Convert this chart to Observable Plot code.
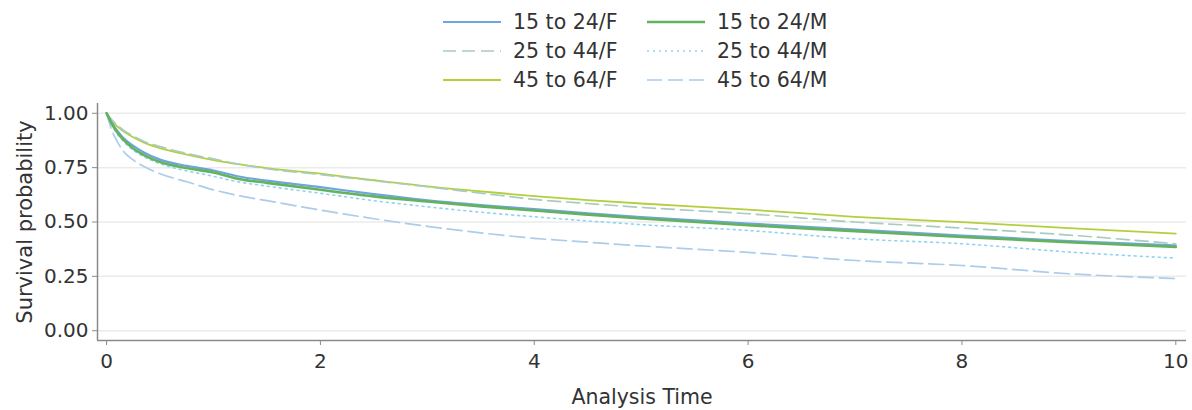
<!DOCTYPE html>
<html>
<head>
<meta charset="utf-8">
<script src="https://cdn.jsdelivr.net/npm/d3@7"></script>
<script src="https://cdn.jsdelivr.net/npm/@observablehq/plot@0.6"></script>
<style>
  html, body { margin: 0; padding: 0; background: #fff; }
  body { width: 1192px; height: 410px; overflow: hidden; font-family: "DejaVu Sans", sans-serif; color: #333; }
  #legend { position: relative; height: 95px; }
  .key { position: absolute; display: flex; align-items: center; font-size: 20.5px; line-height: 1; }
  .key svg { margin-right: 12px; }
  #chart svg { display: block; }
</style>
</head>
<body>
<div id="legend"></div>
<div id="chart"></div>
<script>
// Kaplan-Meier survival by age group / sex
const times = [0, 0.05, 0.1, 0.15, 0.25, 0.35, 0.5, 0.75, 1, 1.25, 1.5, 2, 2.5, 3, 3.5, 4, 4.5, 5, 6, 7, 8, 9, 10];

const s15to24F = [1, 0.955, 0.92, 0.89, 0.85, 0.82, 0.787, 0.758, 0.737, 0.708, 0.69, 0.66, 0.628, 0.60, 0.578, 0.559, 0.54, 0.522, 0.493, 0.465, 0.438, 0.412, 0.392];
const s15to24M = [1, 0.95, 0.912, 0.882, 0.838, 0.808, 0.776, 0.748, 0.728, 0.697, 0.68, 0.648, 0.618, 0.594, 0.572, 0.553, 0.534, 0.516, 0.485, 0.458, 0.431, 0.407, 0.385];
const s25to44F = [1, 0.97, 0.945, 0.925, 0.895, 0.87, 0.847, 0.815, 0.79, 0.765, 0.745, 0.718, 0.69, 0.662, 0.633, 0.604, 0.585, 0.567, 0.538, 0.5, 0.472, 0.44, 0.40];
const s25to44M = [1, 0.948, 0.905, 0.875, 0.83, 0.8, 0.768, 0.735, 0.71, 0.683, 0.665, 0.632, 0.598, 0.57, 0.545, 0.524, 0.505, 0.488, 0.461, 0.423, 0.40, 0.362, 0.334];
const s45to64F = [1, 0.965, 0.94, 0.92, 0.89, 0.865, 0.84, 0.81, 0.785, 0.765, 0.748, 0.722, 0.692, 0.664, 0.641, 0.619, 0.601, 0.585, 0.557, 0.524, 0.499, 0.472, 0.447];
const s45to64M = [1, 0.92, 0.87, 0.83, 0.785, 0.755, 0.722, 0.685, 0.648, 0.62, 0.598, 0.555, 0.515, 0.48, 0.45, 0.425, 0.407, 0.39, 0.36, 0.323, 0.30, 0.262, 0.24];

const groups = ["15 to 24/F", "15 to 24/M", "25 to 44/F", "25 to 44/M", "45 to 64/F", "45 to 64/M"];
const seriesValues = [s15to24F, s15to24M, s25to44F, s25to44M, s45to64F, s45to64M];

const styles = {
  "15 to 24/F": {stroke: "#6ea5dc", width: 2.2, dash: null},
  "15 to 24/M": {stroke: "#62b35c", width: 2.6, dash: null},
  "25 to 44/F": {stroke: "#a9cbc0", width: 1.7, dash: "13 6"},
  "25 to 44/M": {stroke: "#93d3f1", width: 1.6, dash: "2 4"},
  "45 to 64/F": {stroke: "#b3cf3c", width: 1.8, dash: null},
  "45 to 64/M": {stroke: "#acccea", width: 1.7, dash: "15 6"}
};

const yTicks = [0, 0.25, 0.5, 0.75, 1];
const xTicks = [0, 2, 4, 6, 8, 10];
const xDomain = [-0.085, 10.1];
const yDomain = [-0.045, 1.045];

// legend: two columns, three rows
const legendPos = {
  "15 to 24/F": [443, 22], "15 to 24/M": [647, 22],
  "25 to 44/F": [443, 51], "25 to 44/M": [647, 51],
  "45 to 64/F": [443, 80], "45 to 64/M": [647, 80]
};
const legend = document.getElementById("legend");
for (const g of groups) {
  const st = styles[g];
  const [lx, ly] = legendPos[g];
  const div = document.createElement("div");
  div.className = "key";
  div.style.left = lx + "px";
  div.style.top = (ly - 12) + "px";
  div.style.height = "24px";
  div.innerHTML = `<svg width="58" height="8"><line x1="0" x2="58" y1="4" y2="4" stroke="${st.stroke}" stroke-width="${st.width}" ${st.dash ? `stroke-dasharray="${st.dash}"` : ""}/></svg><span>${g}</span>`;
  legend.appendChild(div);
}

const rows = groups.flatMap((g, i) => times.map((t, j) => ({group: g, time: t, surv: seriesValues[i][j]})));

const lineMarks = groups.map(g => Plot.line(rows.filter(d => d.group === g), {
  x: "time", y: "surv",
  stroke: styles[g].stroke,
  strokeWidth: styles[g].width,
  strokeDasharray: styles[g].dash || undefined,
  curve: "monotone-x"
}));

const chart = Plot.plot({
  width: 1192,
  height: 315,
  marginTop: 8,
  marginBottom: 70,
  marginLeft: 97,
  marginRight: 6,
  style: {fontFamily: "'DejaVu Sans', sans-serif", fontSize: "20px", color: "#333", background: "#fff", overflow: "visible"},
  x: {domain: xDomain},
  y: {domain: yDomain},
  marks: [
    Plot.ruleY(yTicks, {stroke: "#ebebeb", strokeWidth: 1.5}),
    // draw the 15-24 pair last so the heavier lines sit on top
    lineMarks[4], lineMarks[2], lineMarks[3], lineMarks[5], lineMarks[0], lineMarks[1],
    Plot.ruleX([xDomain[0]], {stroke: "#8a8a8a", strokeWidth: 1.5}),
    Plot.ruleY([yDomain[0]], {stroke: "#8a8a8a", strokeWidth: 1.5}),
    Plot.axisY(yTicks, {tickFormat: d3.format(".2f"), tickSize: 5, tickPadding: 4, stroke: "#8a8a8a", fill: "#333", fontSize: 20, label: null}),
    Plot.axisX(xTicks, {tickFormat: d3.format("d"), tickSize: 5, tickPadding: 8, stroke: "#8a8a8a", fill: "#333", fontSize: 20, label: null}),
    Plot.text(["Analysis Time"], {frameAnchor: "bottom", dy: 63, fontSize: 20.5, fill: "#333"}),
    Plot.text(["Survival probability"], {frameAnchor: "left", textAnchor: "middle", dx: -72, rotate: -90, fontSize: 21, fill: "#333"})
  ]
});
document.getElementById("chart").appendChild(chart);
</script>
</body>
</html>
